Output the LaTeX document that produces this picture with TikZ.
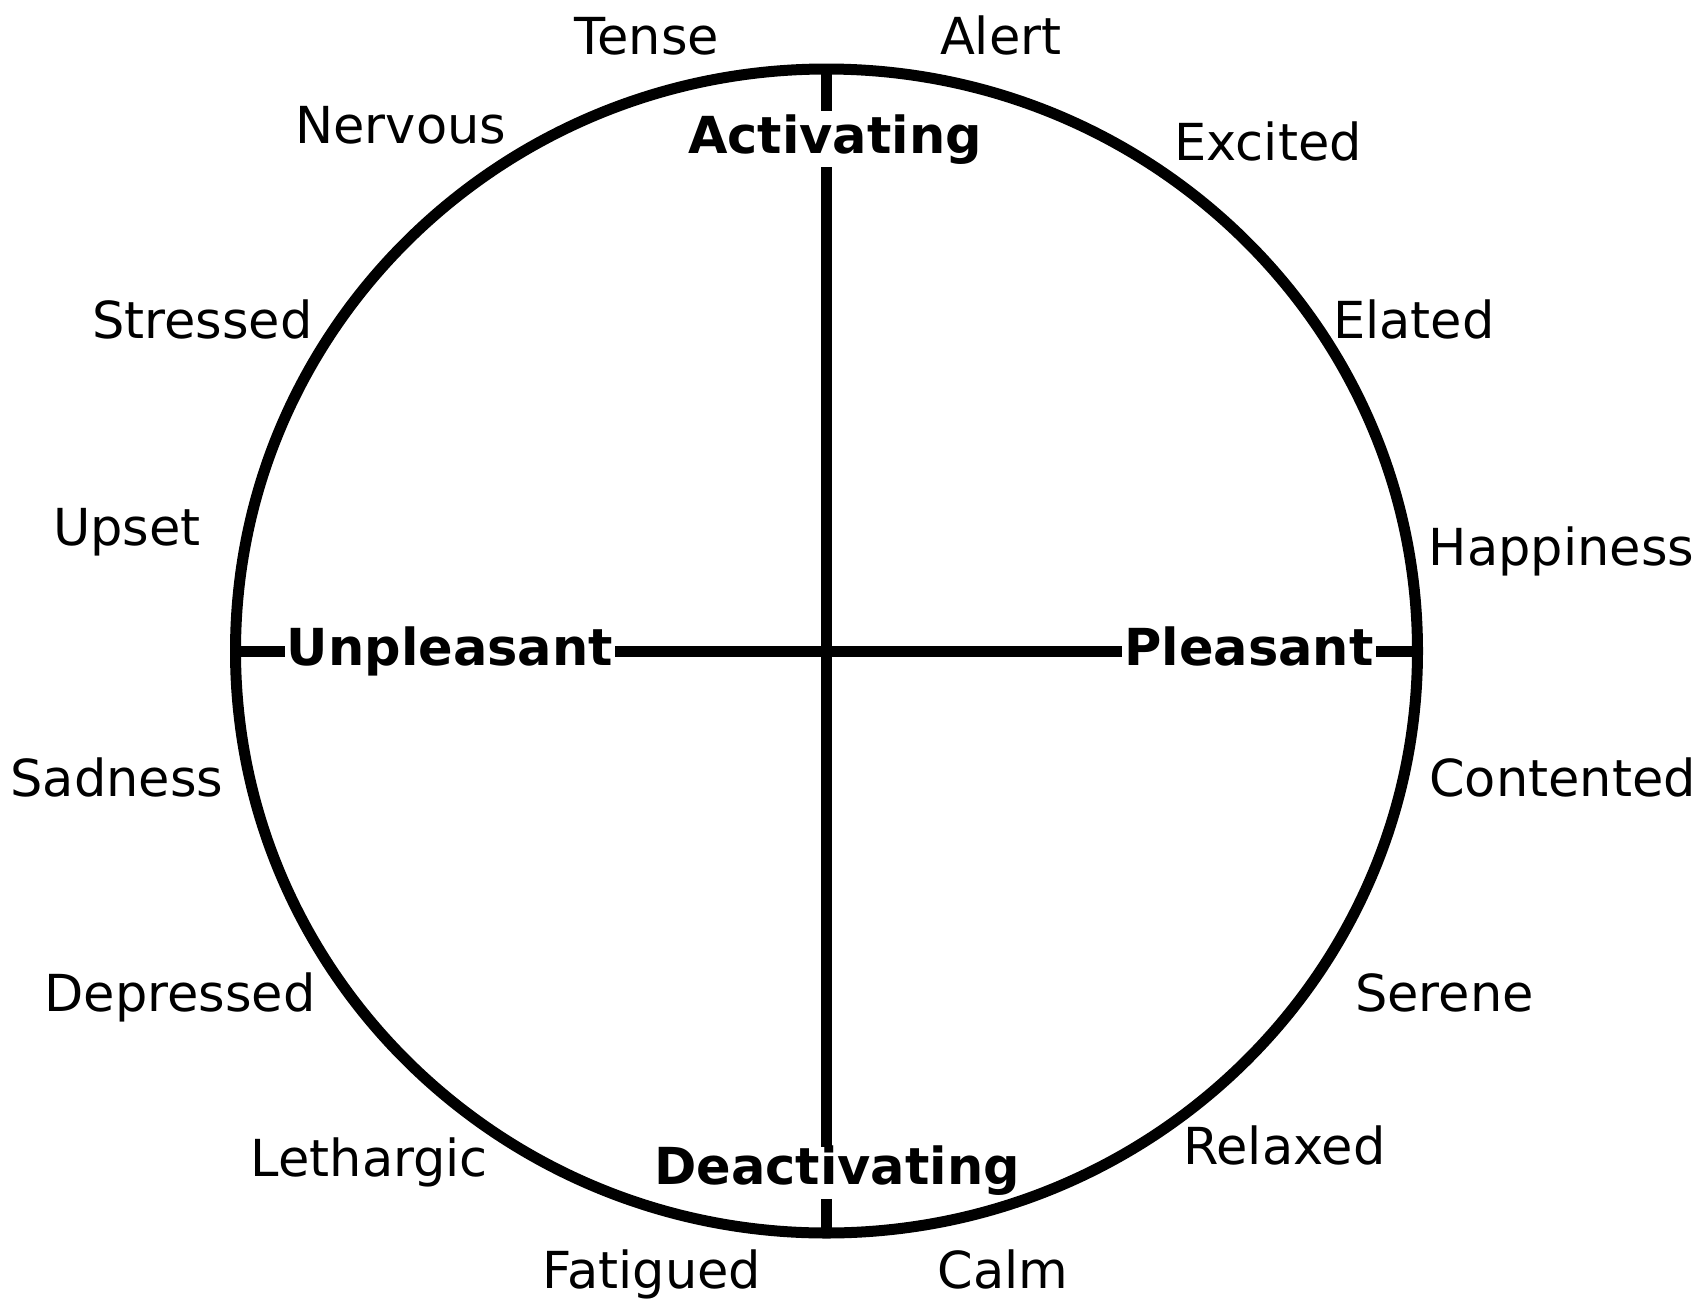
\documentclass[tikz,border=0pt]{standalone}
\usepackage{fontspec}
\setmainfont{DejaVu Sans}
\begin{document}
\begin{tikzpicture}[x=1pt,y=-1pt,
  lbl/.style={anchor=base,inner sep=0pt,font=\fontsize{51}{60}\selectfont},
  axislbl/.style={anchor=base,inner xsep=2pt,inner ysep=3pt,font=\fontsize{51}{60}\selectfont\bfseries},
  stroke/.style={line width=11pt}]
\useasboundingbox (0,0) rectangle (1701,1304);
\coordinate (c) at (826.5,651);
\coordinate (top) at (826.5,69);
\coordinate (bot) at (826.5,1233);
\coordinate (lft) at (236.5,651);
\coordinate (rgt) at (1417.5,651);
\draw[stroke] (c) ellipse [x radius=591, y radius=582];
% axis labels
\node[axislbl] (act) at (835,153) {Activating};
\node[axislbl] (deact) at (837,1184.6) {Deactivating};
\node[axislbl] (unp) at (450,665) {Unpleasant};
\node[axislbl] (ple) at (1249,665) {Pleasant};
% axes
\draw[stroke] (top) -- (top |- act.north);
\draw[stroke] (top |- act.south) -- ([yshift=-4pt]top |- deact.north);
\draw[stroke] (top |- deact.south) -- (bot);
\draw[stroke] (lft) -- (lft -| unp.west);
\draw[stroke] (lft -| unp.east) -- (lft -| ple.west);
\draw[stroke] (lft -| ple.east) -- (rgt);
% emotion words
\node[lbl] (tense) at (647,54) {Tense};
\node[lbl] (alert) at (1000.7,54) {Alert};
\node[lbl] (nervous) at (400.8,143) {Nervous};
\node[lbl] (excited) at (1268,160.5) {Excited};
\node[lbl] (stressed) at (202.3,338.5) {Stressed};
\node[lbl] (elated) at (1414,338.5) {Elated};
\node[lbl] (upset) at (127,545) {Upset};
\node[lbl] (happiness) at (1561.5,565) {Happiness};
\node[lbl] (sadness) at (117,796) {Sadness};
\node[lbl] (contented) at (1562.6,796) {Contented};
\node[lbl] (depressed) at (180,1011) {Depressed};
\node[lbl] (serene) at (1444.4,1011) {Serene};
\node[lbl] (lethargic) at (369.4,1176) {Lethargic};
\node[lbl] (relaxed) at (1284.4,1164) {Relaxed};
\node[lbl] (fatigued) at (652,1288) {Fatigued};
\node[lbl] (calm) at (1002.9,1288) {Calm};
\end{tikzpicture}
\end{document}
